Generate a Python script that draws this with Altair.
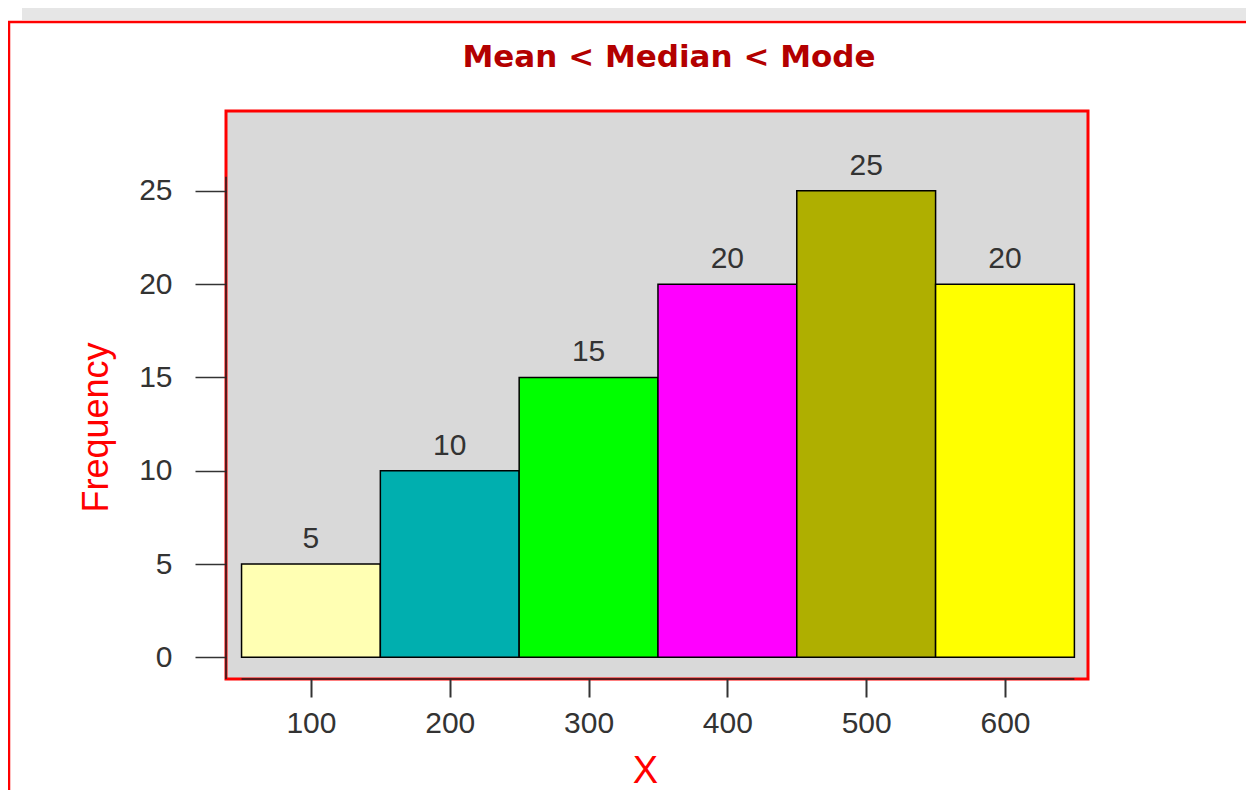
import altair as alt
import pandas as pd

# ---- data ----
bin_mid = [100, 200, 300, 400, 500, 600]
bin_start = [50, 150, 250, 350, 450, 550]
bin_end = [150, 250, 350, 450, 550, 650]
freq = [5, 10, 15, 20, 25, 20]
bar_colors = ["#FFFFB3", "#00AFAF", "#00FF00", "#FF00FF", "#AFAF00", "#FFFF00"]
x_ticks = [100, 200, 300, 400, 500, 600]
y_ticks = [0, 5, 10, 15, 20, 25]
x_domain = [38.8, 659.8]
y_domain = [-1.16, 29.28]
y_axis_span = [-1.16, 25.75]
x_axis_span = [50, 650]
title_text = "Mean < Median < Mode"

df = pd.DataFrame(dict(mid=bin_mid, start=bin_start, end=bin_end,
                       freq=freq, color=bar_colors))

W, H = 862, 568
xs = alt.Scale(domain=x_domain, nice=False, zero=False)
ys = alt.Scale(domain=y_domain, nice=False, zero=False)

x_axis = alt.Axis(values=x_ticks, title="X", grid=False, domain=False,
                  tickSize=18, tickWidth=2, tickColor="#333333",
                  labelFont="Liberation Sans", labelFontSize=30, labelColor="#333333",
                  labelPadding=11, labelFlush=False, labelOverlap=False,
                  titleFont="Liberation Sans", titleFontSize=38, titleColor="#FF0000",
                  titleFontWeight="normal", titleX=419, titleY=103,
                  titleBaseline="alphabetic", titleAlign="center")
y_axis = alt.Axis(values=y_ticks, title="Frequency", grid=False, domain=False,
                  tickSize=31, tickWidth=1.5, tickColor="#333333",
                  labelFont="Liberation Sans", labelFontSize=30, labelColor="#333333",
                  labelPadding=23, labelFlush=False, labelOverlap=False,
                  titleFont="Liberation Sans", titleFontSize=36, titleColor="#FF0000",
                  titleFontWeight="normal", titleX=-119, titleY=316, titleAngle=270,
                  titleBaseline="alphabetic", titleAlign="center")

base = alt.Chart(df)

bars = base.mark_rect(stroke="black", strokeWidth=1.5).encode(
    x=alt.X("start:Q", scale=xs, axis=x_axis),
    x2="end:Q",
    y=alt.Y("freq:Q", scale=ys, axis=y_axis),
    y2=alt.datum(0),
    fill=alt.Fill("color:N", scale=None),
)

labels = base.mark_text(font="Liberation Sans", fontSize=30, color="#333333",
                        baseline="alphabetic", dy=-16).encode(
    x=alt.X("mid:Q", scale=xs),
    y=alt.Y("freq:Q", scale=ys),
    text="freq:Q",
)

yline = alt.Chart(pd.DataFrame({"x": [x_domain[0]], "y1": [y_axis_span[0]], "y2": [y_axis_span[1]]})).mark_rule(
    color="#222222", strokeWidth=1.5).encode(
    x=alt.X("x:Q", scale=xs), y=alt.Y("y1:Q", scale=ys), y2="y2:Q")

xline = alt.Chart(pd.DataFrame({"y": [y_domain[0]], "x1": [x_axis_span[0]], "x2": [x_axis_span[1]]})).mark_rule(
    color="#222222", strokeWidth=1.5).encode(
    y=alt.Y("y:Q", scale=ys), x=alt.X("x1:Q", scale=xs), x2="x2:Q")

# outer page decoration (grey band + red frame lines)
one = df.head(1)
band = alt.Chart(one).mark_rect(color="#E6E6E6").encode(
    x=alt.value(-204), x2=alt.value(1020), y=alt.value(-103), y2=alt.value(-91))
top_line = alt.Chart(one).mark_rule(color="#FF0000", strokeWidth=2.5).encode(
    x=alt.value(-218), x2=alt.value(1020), y=alt.value(-89))
left_line = alt.Chart(one).mark_rule(color="#FF0000", strokeWidth=2.5).encode(
    x=alt.value(-217), y=alt.value(-89), y2=alt.value(680))

title = alt.Chart(one).mark_text(font="DejaVu Sans", fontSize=31, fontWeight="bold",
                                 color="#B30000", align="center", baseline="alphabetic").encode(
    x=alt.value(443), y=alt.value(-44), text=alt.value(title_text))

chart = alt.layer(band, top_line, left_line, title, bars, labels, yline, xline).properties(
    width=W, height=H,
    autosize=alt.AutoSizeParams(type="none"),
    padding={"left": 218, "top": 103, "right": 158, "bottom": 111},
).configure(background="white").configure_view(fill="#D9D9D9", stroke="#FF0000", strokeWidth=3)

chart.save("out.html", embed_options={"renderer": "svg", "actions": False})
